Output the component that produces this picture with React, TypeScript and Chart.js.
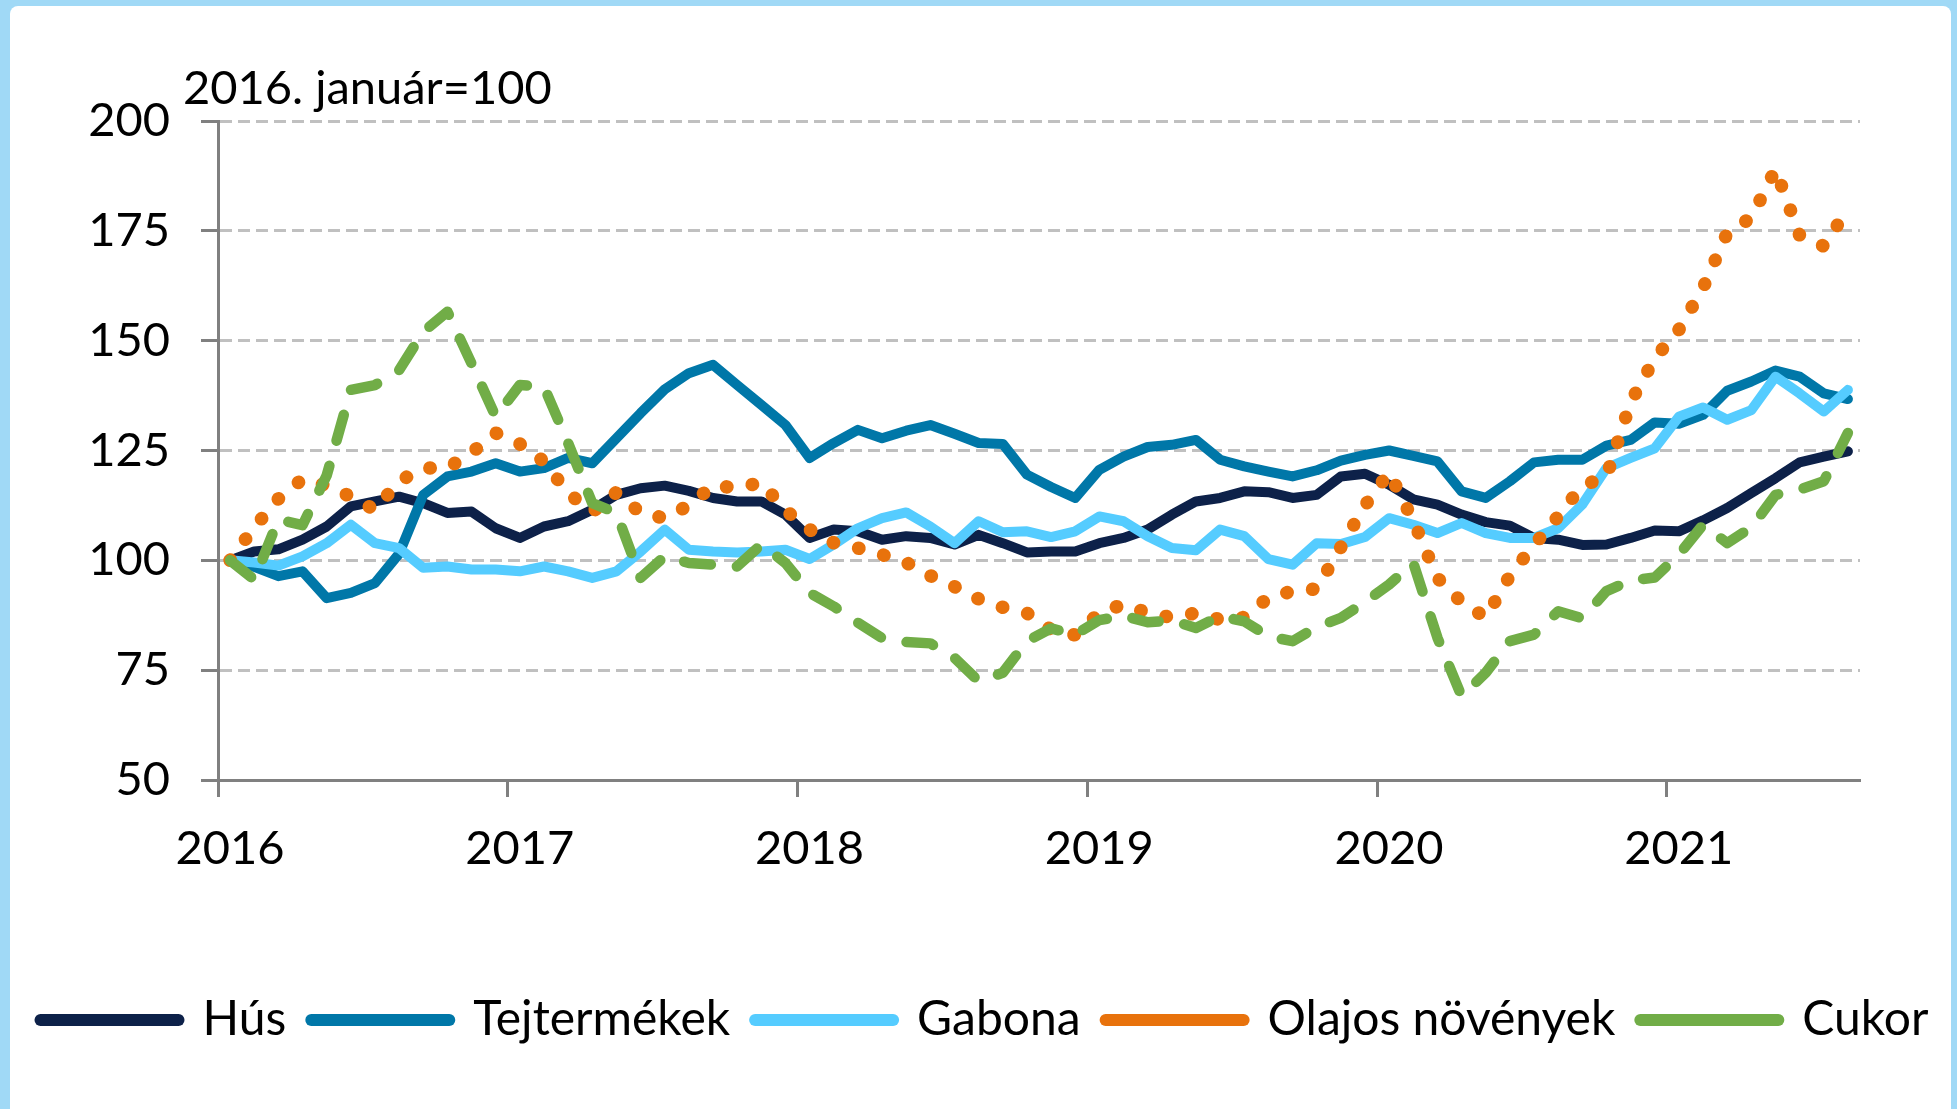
import React, { useEffect, useRef } from 'react';
import { Chart, registerables } from 'chart.js';

Chart.register(...registerables);

const PAGE_W = 1957;
const PAGE_H = 1109;
const FONT = 'Lato, "Open Sans", "DejaVu Sans", sans-serif';

const UNIT_LABEL = '2016. január=100';
const FIRST_YEAR = 2016;
const YEAR_TICKS = [2016, 2017, 2018, 2019, 2020, 2021];
const Y_TICKS = [50, 75, 100, 125, 150, 175, 200];
const AXIS_MONTHS = 68; // Jan 2016 – Aug 2021

const hus = [
  100, 102, 102.5, 104.7, 107.7, 112.3, 113.4, 114.5, 113, 110.8,
  111.1, 107.3, 105.1, 107.7, 108.9, 111.5, 114.9, 116.4, 117, 115.8,
  114.2, 113.4, 113.4, 110.4, 105.1, 107, 106.6, 104.7, 105.5, 105.1,
  103.6, 105.8, 103.9, 101.8, 102, 102, 103.9, 105.1, 107, 110.4,
  113.4, 114.2, 115.7, 115.5, 114.2, 114.9, 119.1, 119.7, 117.2, 113.9,
  112.7, 110.4, 108.7, 107.9, 105.1, 104.7, 103.5, 103.6, 105.1, 106.8,
  106.6, 109.1, 111.9, 115.3, 118.7, 122.3, 123.6, 124.8,
];

const tejtermekek = [
  100, 98.5, 96.4, 97.5, 91.4, 92.6, 94.8, 101.5, 114.9, 119.1,
  120.2, 122.1, 120.2, 121, 123.3, 122.1, 127.8, 133.5, 138.9, 142.6,
  144.5, 139.9, 135.4, 130.8, 123.3, 126.7, 129.7, 127.8, 129.5, 130.8,
  128.8, 126.7, 126.5, 119.5, 116.7, 114.2, 120.6, 123.6, 125.8, 126.3,
  127.4, 122.9, 121.4, 120.2, 119.1, 120.5, 122.7, 124, 125, 123.8,
  122.5, 115.7, 114.2, 118, 122.3, 122.9, 122.9, 126.1, 127.4, 131.4,
  131.1, 133.1, 138.6, 140.7, 143.2, 141.8, 138, 136.7,
];

const gabona = [
  100, 99.5, 98.8, 100.9, 103.9, 108.1, 103.9, 102.8, 98.3, 98.6,
  97.9, 97.9, 97.5, 98.6, 97.5, 96, 97.5, 102, 107, 102.4,
  102, 101.8, 102, 102.4, 100.3, 103.6, 107.3, 109.6, 110.9, 107.7,
  103.9, 108.9, 106.4, 106.6, 105.3, 106.6, 110, 108.9, 105.5, 102.8,
  102.3, 107, 105.5, 100.3, 99, 103.9, 103.7, 105.3, 109.6, 108.1,
  106.2, 108.5, 106.2, 105.1, 105.1, 107.3, 112.7, 121, 123.3, 125.5,
  132.7, 134.8, 132, 134.2, 141.8, 138, 133.9, 138.8,
];

const olajos = [
  100, 107.5, 114, 118.5, 117, 114.5, 111.5, 118, 121, 121,
  124.5, 129, 126.5, 122.5, 115.3, 111, 115.5, 110.8, 109.6, 112.5,
  117, 116.5, 117.7, 111.4, 107, 104, 102.8, 101.3, 99.5, 96.5,
  94, 91.2, 89.3, 88, 84.2, 83, 88, 90, 88, 87,
  88, 86.5, 87, 91.5, 93, 93.5, 103, 112.5, 120, 109,
  96, 90.5, 87, 96.5, 103.5, 110, 117, 119, 136, 146,
  152.5, 162, 174.5, 178, 189, 174, 171.5, 180,
];

const cukor = [
  100, 95.6, 109.3, 108, 119.3, 138.8, 139.9, 143.3, 152, 156.6,
  144.8, 132.7, 139.9, 139.5, 126.7, 113, 110.8, 96, 100.9, 99.4,
  99, 98.6, 103.6, 99.4, 92.6, 89.5, 85.8, 82.3, 81.4, 81.1,
  77.8, 72.5, 74.4, 81.6, 84.5, 83.1, 86.4, 87.4, 85.9, 86.3,
  84.6, 87.3, 86.1, 82.7, 81.6, 84.8, 86.9, 90.5, 94.5, 99.4,
  82.4, 69.1, 74.4, 81.6, 83.1, 88.4, 86.8, 93, 95.4, 96.1,
  101.3, 108.1, 103.9, 107.5, 114.9, 116.1, 118, 129,
];

const NAVY = '#0d2149';
const TEAL = '#0077a8';
const SKY = '#55ccff';
const ORANGE = '#e8720c';
const GREEN = '#71ad47';
const AXIS_GRAY = '#808080';
const GRID_GRAY = '#c0c0c0';
const FRAME_BLUE = '#a0d9f6';

// monthly observations plotted at mid-month on a month-index axis
const monthPoints = (vals: number[]) => vals.map((y, i) => ({ x: i + 0.5, y }));

const unitLabelPlugin = {
  id: 'unitLabel',
  afterDraw(chart: any) {
    const { ctx } = chart;
    ctx.save();
    ctx.font = `47px ${FONT}`;
    ctx.fillStyle = '#000';
    ctx.textAlign = 'left';
    ctx.textBaseline = 'alphabetic';
    ctx.fillText(UNIT_LABEL, 183, 104);
    ctx.restore();
  },
};

export default function App() {
  const canvasRef = useRef<HTMLCanvasElement | null>(null);

  useEffect(() => {
    const canvas = canvasRef.current;
    if (!canvas) return;
    const common = {
      pointRadius: 0,
      pointHoverRadius: 0,
      tension: 0,
      fill: false,
      borderCapStyle: 'round',
      borderJoinStyle: 'round',
    };
    const chart = new Chart(canvas, {
      type: 'line',
      data: {
        datasets: [
          { ...common, label: 'Hús', data: monthPoints(hus), borderColor: NAVY, backgroundColor: NAVY, borderWidth: 10, order: 5 },
          { ...common, label: 'Tejtermékek', data: monthPoints(tejtermekek), borderColor: TEAL, backgroundColor: TEAL, borderWidth: 10, order: 4 },
          { ...common, label: 'Gabona', data: monthPoints(gabona), borderColor: SKY, backgroundColor: SKY, borderWidth: 10, order: 3 },
          { ...common, label: 'Olajos növények', data: monthPoints(olajos), borderColor: ORANGE, backgroundColor: ORANGE, borderWidth: 13.5, borderDash: [0.5, 25.5], order: 2 },
          { ...common, label: 'Cukor', data: monthPoints(cukor), borderColor: GREEN, backgroundColor: GREEN, borderWidth: 10.5, borderDash: [27, 26], order: 1 },
        ] as any,
      },
      options: {
        responsive: false,
        animation: false,
        events: [],
        layout: { padding: { top: 121, bottom: 55, left: 12, right: 0 } },
        scales: {
          x: {
            type: 'linear',
            min: 0,
            max: AXIS_MONTHS,
            afterBuildTicks: (s: any) => {
              s.ticks = YEAR_TICKS.map((yr) => ({ value: (yr - FIRST_YEAR) * 12 }));
            },
            afterFit: (s: any) => {
              s.height = 191;
            },
            ticks: {
              autoSkip: false,
              maxRotation: 0,
              padding: 24,
              labelOffset: 12,
              color: '#000',
              font: { family: FONT, size: 47 },
              callback: (v: any) => String(FIRST_YEAR + Math.round(Number(v) / 12)),
            },
            grid: {
              drawOnChartArea: false,
              drawTicks: true,
              tickLength: 17,
              tickColor: AXIS_GRAY,
              tickWidth: 3,
            },
            border: { color: AXIS_GRAY, width: 3 },
          },
          y: {
            type: 'linear',
            position: 'left',
            min: 50,
            max: 200,
            afterBuildTicks: (s: any) => {
              s.ticks = Y_TICKS.map((v) => ({ value: v }));
            },
            afterFit: (s: any) => {
              s.width = 206;
            },
            ticks: {
              padding: 31,
              color: '#000',
              font: { family: FONT, size: 47 },
            },
            grid: {
              color: GRID_GRAY,
              lineWidth: 3,
              drawTicks: true,
              tickLength: 17,
              tickColor: AXIS_GRAY,
              tickWidth: 3,
            },
            border: { color: AXIS_GRAY, width: 3, dash: [12, 6] },
          },
          yRight: {
            type: 'linear',
            position: 'right',
            min: 50,
            max: 200,
            display: true,
            afterFit: (s: any) => {
              s.width = 97;
            },
            ticks: { display: false },
            grid: { display: false, drawTicks: false },
            border: { display: false },
          },
        } as any,
        plugins: {
          title: { display: false },
          tooltip: { enabled: false },
          legend: {
            position: 'bottom',
            labels: {
              color: '#000',
              font: { family: FONT, size: 48 },
              usePointStyle: true,
              pointStyle: 'line',
              pointStyleWidth: 138,
              padding: 25,
              sort: (a: any, b: any) => a.datasetIndex - b.datasetIndex,
              generateLabels: (c: any) =>
                (Chart.defaults.plugins.legend.labels.generateLabels as any)(c).map((l: any) => ({
                  ...l,
                  lineWidth: 12,
                  lineCap: 'round',
                })),
            },
          },
        } as any,
      },
      plugins: [unitLabelPlugin],
    } as any);
    return () => chart.destroy();
  }, []);

  return (
    <div
      style={{
        position: 'fixed',
        left: 0,
        top: 0,
        width: PAGE_W,
        height: PAGE_H,
        background: FRAME_BLUE,
        overflow: 'hidden',
      }}
    >
      <div
        style={{
          position: 'absolute',
          left: 10,
          top: 6,
          width: PAGE_W - 16,
          height: PAGE_H + 40,
          background: '#fff',
          borderRadius: 8,
        }}
      />
      <canvas
        ref={canvasRef}
        width={PAGE_W}
        height={PAGE_H}
        style={{ position: 'absolute', left: 0, top: 0, width: PAGE_W, height: PAGE_H }}
      />
    </div>
  );
}
